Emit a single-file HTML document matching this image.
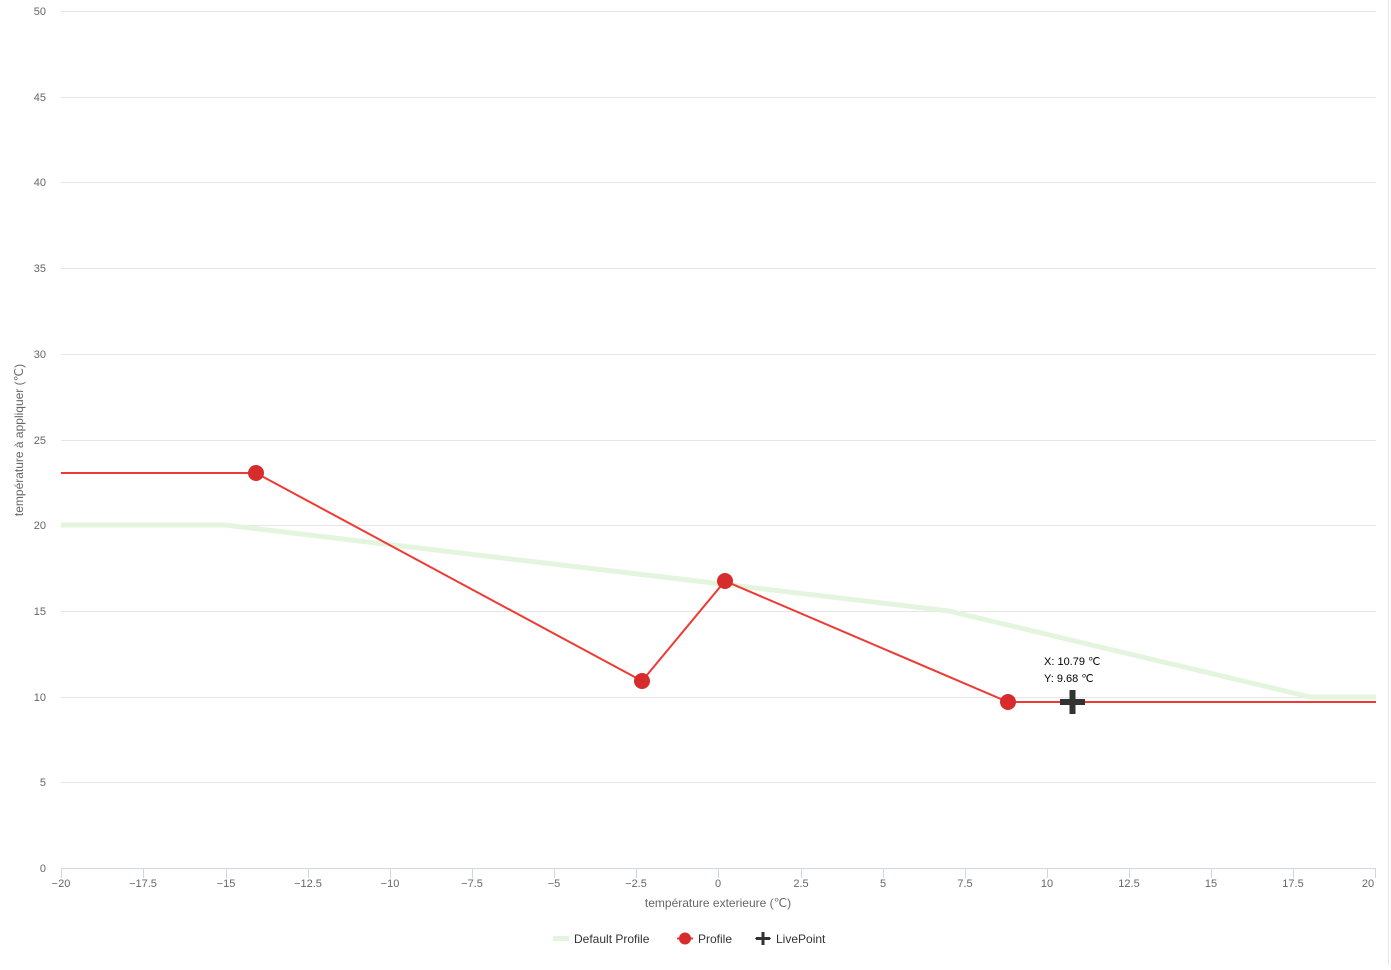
<!DOCTYPE html>
<html><head><meta charset="utf-8"><style>
body{margin:0;background:#fff;font-family:"Liberation Sans",sans-serif}
svg text{font-family:"Liberation Sans",sans-serif}
</style></head><body>
<svg width="1391" height="965" viewBox="0 0 1391 965">
<rect width="1391" height="965" fill="#fff"/>
<line x1="1388.5" y1="0" x2="1388.5" y2="965" stroke="#e6e6e6"/>
<g stroke="#e6e6e6" stroke-width="1">
<line x1="61" x2="1376" y1="11.5" y2="11.5"/><line x1="61" x2="1376" y1="97.5" y2="97.5"/>
<line x1="61" x2="1376" y1="182.5" y2="182.5"/><line x1="61" x2="1376" y1="268.5" y2="268.5"/>
<line x1="61" x2="1376" y1="354.5" y2="354.5"/><line x1="61" x2="1376" y1="440.5" y2="440.5"/>
<line x1="61" x2="1376" y1="525.5" y2="525.5"/><line x1="61" x2="1376" y1="611.5" y2="611.5"/>
<line x1="61" x2="1376" y1="697.5" y2="697.5"/><line x1="61" x2="1376" y1="782.5" y2="782.5"/>
</g>
<line x1="61" x2="1376" y1="868.5" y2="868.5" stroke="#ccd6eb"/>
<g stroke="#ccd6eb">
<line x1="61.5" x2="61.5" y1="868" y2="878"/><line x1="143.5" x2="143.5" y1="868" y2="878"/><line x1="226.5" x2="226.5" y1="868" y2="878"/><line x1="308.5" x2="308.5" y1="868" y2="878"/><line x1="390.5" x2="390.5" y1="868" y2="878"/><line x1="472.5" x2="472.5" y1="868" y2="878"/><line x1="554.5" x2="554.5" y1="868" y2="878"/><line x1="636.5" x2="636.5" y1="868" y2="878"/><line x1="718.5" x2="718.5" y1="868" y2="878"/><line x1="801.5" x2="801.5" y1="868" y2="878"/><line x1="883.5" x2="883.5" y1="868" y2="878"/><line x1="965.5" x2="965.5" y1="868" y2="878"/><line x1="1047.5" x2="1047.5" y1="868" y2="878"/><line x1="1129.5" x2="1129.5" y1="868" y2="878"/><line x1="1211.5" x2="1211.5" y1="868" y2="878"/><line x1="1293.5" x2="1293.5" y1="868" y2="878"/><line x1="1375.5" x2="1375.5" y1="868" y2="878"/>
</g>
<g font-size="11" fill="#666" text-anchor="end">
<text x="46" y="15">50</text><text x="46" y="101">45</text><text x="46" y="186">40</text><text x="46" y="272">35</text><text x="46" y="358">30</text><text x="46" y="444">25</text><text x="46" y="529">20</text><text x="46" y="615">15</text><text x="46" y="701">10</text><text x="46" y="786">5</text><text x="46" y="872">0</text>
</g>
<g font-size="11" fill="#666" text-anchor="middle">
<text x="61" y="887">−20</text><text x="143" y="887">−17.5</text><text x="226" y="887">−15</text><text x="308" y="887">−12.5</text><text x="390" y="887">−10</text><text x="472" y="887">−7.5</text><text x="554" y="887">−5</text><text x="636" y="887">−2.5</text><text x="718" y="887">0</text><text x="801" y="887">2.5</text><text x="883" y="887">5</text><text x="965" y="887">7.5</text><text x="1047" y="887">10</text><text x="1129" y="887">12.5</text><text x="1211" y="887">15</text><text x="1293" y="887">17.5</text><text x="1368" y="887">20</text>
</g>
<text x="718" y="907" font-size="12" fill="#666" text-anchor="middle">température exterieure (℃)</text>
<text transform="translate(23,440) rotate(-90)" font-size="12" fill="#666" text-anchor="middle">température à appliquer (℃)</text>
<polyline points="61,525 225,525 949,611 1310,697 1376,697" fill="none" stroke="#e4f5df" stroke-width="5"/>
<polyline points="61,473 256,473 642,681 725,581 1008,702 1376,702" fill="none" stroke="#ee3a33" stroke-width="2"/>
<g fill="#d62c2c"><circle cx="256" cy="473" r="8"/><circle cx="642" cy="681" r="8"/><circle cx="725" cy="581" r="8"/><circle cx="1008" cy="702" r="8"/></g>
<g fill="#333"><rect x="1060" y="699" width="25" height="6"/><rect x="1069.5" y="690" width="6" height="24"/></g>
<g font-size="11" fill="#000"><text x="1044" y="665">X: 10.79 ℃</text><text x="1044" y="682">Y: 9.68 ℃</text></g>
<rect x="553" y="936" width="16" height="5" fill="#e4f5df"/>
<text x="574" y="943" font-size="12" fill="#333">Default Profile</text>
<line x1="677" x2="693" y1="938.5" y2="938.5" stroke="#ee3a33" stroke-width="2"/><circle cx="685" cy="938.5" r="6" fill="#d62c2c"/>
<text x="698" y="943" font-size="12" fill="#333">Profile</text>
<line x1="755" x2="771" y1="938.5" y2="938.5" stroke="#446" stroke-width="1"/>
<rect x="756" y="937" width="14" height="3" fill="#333"/><rect x="761.5" y="932" width="3" height="13" fill="#333"/>
<text x="776" y="943" font-size="12" fill="#333">LivePoint</text>
</svg>
</body></html>
